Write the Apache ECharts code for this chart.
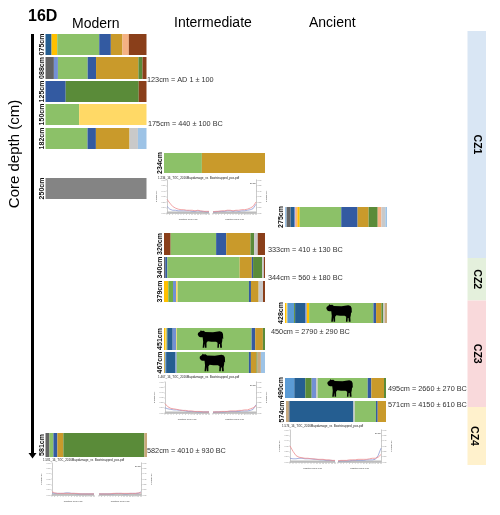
<!DOCTYPE html>
<html><head><meta charset="utf-8">
<style>html,body{margin:0;padding:0;background:#fff}#c{width:500px;height:515px}</style>
<script src="https://cdn.jsdelivr.net/npm/echarts@6/dist/echarts.min.js"></script>
</head><body><div id="c"></div>
<script>
// ---------- DATA: composition of each sample (taxon, %) ----------
const s075 = [['dkblue',6],['gold',5.6],['green',41.6],['blue',11.5],['ochre',11.5],['peach',6.3],['brown',17.5]];
const s088 = [['gray',8.3],['periw',4],['green',29.4],['blue',8.3],['ochre',41.9],['dkgreen',4],['brown',4]];
const s125 = [['blue',20],['dkgreen',72.3],['brown',7.7]];
const s150 = [['green',33.3],['ltyellow',66.7]];
const s182 = [['green',41.6],['blue',8.3],['ochre',33.3],['ltgray',8.3],['ltblue',8.5]];
const s250 = [['midgray',100]];
const s234 = [['green',37.5],['ochre',62.5]];
const s320 = [['brown',6.6],['green',45],['blue',10],['ochre',24],['dkgreen',3.6],['ltgray',3.6],['brown',7.2]];
const s340 = [['gray',1.3],['blue',2],['green',71.6],['ochre',12],['blue',1.3],['dkgreen',9],['ltgray',1.7],['brown',1.1]];
const s379 = [['gold',4.3],['mdgreen',4.6],['periw',3],['ltyellow',1.6],['green',70.6],['blue',2],['ochre',7.6],['ltgray',4.3],['brown',2]];
const s451 = [['gold',1],['ltyellow',1.6],['dkgreen',0.7],['dkblue',5.3],['periw',3.3],['ltyellow',0.7],['green',74],['blue',3.6],['ochre',7.6],['dkgreen',2.1]];
const s467 = [['gold',0.7],['gray',0.7],['midblue',0.7],['dkblue',9.2],['periw',1.3],['green',71.6],['blue',2],['ochre',5.6],['dkgreen',1],['tan',3.3],['ltblue',4.1]];
const s275 = [['ltblue',1.6],['gray',3.9],['dkblue',3.3],['periw',1.3],['peach',2],['gold',2.3],['green',40.7],['blue',16],['ochre',10.8],['dkgreen',8.9],['peach',3.6],['ltgray',3.9],['ltblue',1.6]];
const s428 = [['gold',1],['ltyellow',1.3],['midblue',6.6],['dkgreen',1],['dkblue',9.8],['periw',1.6],['gold',2.3],['green',63],['blue',2.6],['ochre',5.2],['dkgreen',1.6],['ltgray',1.6],['tan',2.3]];
const s490 = [['midblue',9.2],['dkblue',10.9],['dkgreen',6.3],['periw',4.3],['ltgray',1.6],['green',49.5],['blue',3.6],['ochre',12.5],['dkgreen',2]];
const s574 = [['tan',2.7],['gray',1],['dkblue',63.8],['ltgray',1.3],['green',21.3],['blue',1.7],['ochre',8.3]];
const s581 = [['gray',3.9],['green',3.9],['blue',3.9],['ochre',5.9],['dkgreen',79.7],['tan',2.6]];

// cows: position along the bar (% of composition)
const cowAt = {s451:46, s467:48, s428:53, s490:54.5};

// zone thicknesses along the depth column
const zoneNames = ['CZ1','CZ2','CZ3','CZ4'];
const zoneValues = [227,42.5,106.5,58];

// damage-plot curves (frequency by position)
const posTicks = ['1','2','3','4','5','6','7','8','9','10','11','12','13','14','15','16'];
const aLeftRed  = [.25,.18,.12,.09,.07,.06,.06,.05,.05,.05,.04,.05,.04,.03,.03,.03];
const aLeftBlue = [.12,.07,.05,.05,.04,.04,.04,.04,.04,.03,.03,.04,.03,.03,.02,.02];
const aRightRed = [.02,.03,.03,.04,.04,.05,.05,.04,.05,.05,.06,.06,.07,.09,.12,.20];
const aRightBlue= [.02,.02,.03,.03,.03,.04,.04,.03,.04,.03,.04,.04,.05,.06,.08,.16];
const bLeftRed  = [.18,.12,.09,.08,.07,.06,.05,.05,.04,.04,.03,.03,.03,.02,.02,.02];
const bLeftBlue = [.10,.08,.07,.06,.06,.05,.05,.04,.03,.03,.03,.02,.02,.02,.02,.02];
const bRightRed = [.02,.02,.02,.03,.03,.03,.04,.04,.04,.05,.05,.06,.06,.08,.10,.14];
const bRightBlue= [.01,.02,.02,.02,.02,.03,.03,.03,.03,.03,.04,.04,.04,.05,.07,.16];
const cLeftRed  = [.30,.20,.12,.09,.08,.07,.07,.06,.06,.05,.05,.05,.04,.04,.03,.03];
const cLeftBlue = [.07,.06,.06,.07,.07,.06,.06,.06,.05,.05,.04,.04,.03,.03,.03,.02];
const cRightRed = [.02,.03,.03,.03,.04,.04,.04,.05,.05,.05,.05,.06,.07,.07,.09,.14];
const cRightBlue= [.01,.02,.02,.02,.02,.03,.03,.03,.03,.03,.04,.04,.04,.05,.12,.26];
const dLeftRed  = [.06,.04,.03,.03,.03,.03,.03,.03,.03,.03,.02,.02,.02,.02,.02,.02];
const dLeftBlue = [.04,.03,.03,.03,.03,.04,.04,.03,.03,.02,.02,.02,.02,.02,.02,.02];
const dRightRed = [.02,.02,.02,.02,.02,.03,.03,.03,.03,.03,.03,.03,.03,.03,.04,.04];
const dRightBlue= [.02,.02,.02,.02,.02,.02,.03,.03,.03,.02,.02,.03,.03,.03,.03,.06];
const baseline  = [.012,.012,.012,.012,.012,.012,.012,.012,.012,.012,.012,.012,.012,.012,.012,.012];

// ---------- STYLE / LAYOUT ----------
const taxonColor = {dkblue:'#255E91',gold:'#FFC000',green:'#8CC168',blue:'#335AA1',ochre:'#C99A2B',peach:'#F4B183',
  brown:'#8A3F1A',gray:'#636363',periw:'#7390D4',dkgreen:'#5A8B39',mdgreen:'#70AD47',ltyellow:'#FFD966',ltgray:'#C9C9C9',
  ltblue:'#9DC3E6',midgray:'#848484',midblue:'#5B9BD5',tan:'#C8A87C'};
const zoneColor = ['#D9E6F4','#E4F0DC','#F9D9DB','#FFF1CC'];
const font = 'Liberation Sans';

const barRows = [
 ['075cm',s075,45.5,34,101,21,'s075'],['088cm',s088,45.5,57,101,22,'s088'],['125cm',s125,45.5,81,101,21,'s125'],
 ['150cm',s150,45.5,104,101,21,'s150'],['182cm',s182,45.5,128,101,21,'s182'],['250cm',s250,45.5,178,101,21,'s250'],
 ['234cm',s234,164,153,101,20,'s234'],['320cm',s320,164,233,101,22,'s320'],['340cm',s340,164,257,101,21,'s340'],
 ['379cm',s379,164,281,101,21,'s379'],['451cm',s451,164,328,101,22,'s451'],['467cm',s467,164,352,101,21,'s467'],
 ['275cm',s275,285,207,102,20,'s275'],['428cm',s428,285,303,102,20,'s428'],['490cm',s490,285,378,101,20,'s490'],
 ['574cm',s574,286,401,100,21,'s574'],['581cm',s581,45.5,433,101.5,24,'s581']
];
const cowPath = 'path://M2 14L10 9L13 4L17 7L24 6L30 10L60 11L86 8L95 10L99 18L100 36L97 33L96 44L94 52L95 68L88 68L87 54L84 54L83 68L77 68L78 50L72 46L54 46L40 44L35 50L35 68L29 68L28 52L26 68L20 68L22 46L20 30L12 30L6 28L1 20Z';

const grid=[],xAxis=[],yAxis=[],series=[],graphic=[];

function addText(text,x,y,size,opts){
  graphic.push(Object.assign({type:'text',x,y,silent:true,
    style:Object.assign({text,font:(opts&&opts.weight||'normal')+' '+size+'px "'+font+'"',fill:'#000',
      textAlign:'left',textVerticalAlign:'middle'},opts&&opts.style)},opts&&opts.el));
}
// --- stacked composition bars
barRows.forEach(r=>{
  const [label,vals,x,y,w,h,key]=r, i=grid.length;
  grid.push({left:x,top:y,width:w,height:h,containLabel:false});
  const total=vals.reduce((a,v)=>a+v[1],0);
  xAxis.push({gridIndex:i,type:'value',min:0,max:total,show:false});
  yAxis.push({gridIndex:i,type:'category',data:[label],show:false});
  vals.forEach((v,k)=>series.push({type:'bar',xAxisIndex:i,yAxisIndex:i,stack:key,barWidth:'100%',silent:true,
    data:[v[1]],itemStyle:{color:taxonColor[v[0]]}}));
  if(cowAt[key]!==undefined) series.push({type:'scatter',xAxisIndex:i,yAxisIndex:i,silent:true,z:5,
    symbol:cowPath,symbolSize:[25.5,17.5],data:[[cowAt[key],0]],itemStyle:{color:'#000',opacity:1}});
  graphic.push({type:'text',x:x-3.5,y:y+h/2,rotation:Math.PI/2,silent:true,
    style:{text:label,font:'bold 7px "'+font+'"',fill:'#111',textAlign:'center',textVerticalAlign:'middle'}});
});
// --- zone column
{
  const i=grid.length;
  grid.push({left:467.5,top:31,width:18.5,height:434});
  xAxis.push({gridIndex:i,type:'category',data:['zones'],show:false});
  yAxis.push({gridIndex:i,type:'value',inverse:true,min:0,max:zoneValues.reduce((a,b)=>a+b,0),show:false});
  zoneValues.forEach((v,k)=>series.push({type:'bar',xAxisIndex:i,yAxisIndex:i,stack:'z',barWidth:'100%',silent:true,
    data:[v],itemStyle:{color:zoneColor[k]},
    label:{show:true,position:'inside',rotate:-90,offset:[0,k===3?3:0],formatter:zoneNames[k],fontFamily:font,fontWeight:'bold',fontSize:10.5,color:'#000'}}));
}
// --- damage plots
function damagePanel(x,y,w,h,red,blue,side){
  const i=grid.length;
  grid.push({left:x,top:y,width:w,height:h});
  xAxis.push({gridIndex:i,type:'category',data:posTicks,boundaryGap:false,position:'bottom',
    axisLine:{lineStyle:{color:'#aaa',width:.6}},axisTick:{length:1,lineStyle:{color:'#aaa',width:.4}},
    axisLabel:{show:true,interval:0,fontSize:1.6,margin:1,color:'#999',fontFamily:font},
    name:'Position from end',nameLocation:'middle',nameGap:5,nameTextStyle:{fontSize:2.4,color:'#444',fontFamily:font},splitLine:{show:false}});
  yAxis.push({gridIndex:i,type:'value',position:side,min:0,max:.6,interval:.1,
    axisLine:{show:true,lineStyle:{color:'#aaa',width:.6}},axisTick:{show:true,length:1,lineStyle:{color:'#aaa',width:.4}},
    axisLabel:{show:true,fontSize:2,margin:1.5,color:'#777',fontFamily:font,formatter:v=>v.toFixed(2)},
    name:'Frequency',nameLocation:'middle',nameGap:6.5,nameTextStyle:{fontSize:2.4,color:'#444',fontFamily:font},splitLine:{show:false}});
  [[baseline,'#bdbdbd',1.6],[blue,'#7F8FD0',.7],[red,'#EE8E90',.8]].forEach(s=>series.push({type:'line',xAxisIndex:i,yAxisIndex:i,
    data:s[0],showSymbol:false,silent:true,lineStyle:{color:s[1],width:s[2]}}));
}
function damagePlot(title,tx,ty,lx,rx,top,h,lw,rw,a,b,c,d){
  addText(title,tx,ty,3,{style:{fill:'#222'}});
  damagePanel(lx,top,lw,h,a,b,'left');
  damagePanel(rx,top,rw,h,c,d,'right');
  addText('Deam',rx+rw-6,top+3,2.2,{style:{fill:'#333'}});
}
damagePlot('1.234_16_TOC_2016Mapdamage_vs_Bootstrapped_pos.pdf',158,178,167,213,180,33,42,43,aLeftRed,aLeftBlue,aRightRed,aRightBlue);
damagePlot('1.467_16_TOC_2016Mapdamage_vs_Bootstrapped_pos.pdf',158,377,165,213,382,31,44,43,bLeftRed,bLeftBlue,bRightRed,bRightBlue);
damagePlot('1.574_16_TOC_2016Mapdamage_vs_Bootstrapped_pos.pdf',282,426,290,338,430,32,45,43,cLeftRed,cLeftBlue,cRightRed,cRightBlue);
damagePlot('1.581_16_TOC_2016Mapdamage_vs_Bootstrapped_pos.pdf',43,460,52,99,463,32,42,42,dLeftRed,dLeftBlue,dRightRed,dRightBlue);

// --- titles and notes
addText('16D',28,17,16,{weight:'bold'});
addText('Modern',72,24,14);
addText('Intermediate',174,23,14);
addText('Ancient',309,23,14);
graphic.push({type:'text',x:15,y:154,rotation:Math.PI/2,silent:true,
  style:{text:'Core depth (cm)',font:'15px "'+font+'"',fill:'#000',textAlign:'center',textVerticalAlign:'middle'}});
const notes=[['123cm = AD 1 ± 100',147,80],['175cm = 440 ± 100 BC',148,124],['333cm = 410 ± 130 BC',268,250],
 ['344cm = 560 ± 180 BC',268,278],['450cm = 2790 ± 290 BC',271,332],['495cm = 2660 ± 270 BC',388,389],
 ['571cm = 4150 ± 610 BC',388,405],['582cm = 4010 ± 930 BC',147,451]];
notes.forEach(n=>addText(n[0],n[1],n[2],7.3,{style:{fill:'#333'}}));
// --- depth arrow
graphic.push({type:'line',silent:true,shape:{x1:32.5,y1:34,x2:32.5,y2:454},style:{stroke:'#000',lineWidth:3}});
graphic.push({type:'polygon',silent:true,shape:{points:[[28.5,453],[36.5,453],[32.5,458.5]]},style:{fill:'#000'}});

const chart=echarts.init(document.getElementById('c'),null,{renderer:'canvas'});
chart.setOption({animation:false,backgroundColor:'#fff',grid,xAxis,yAxis,series,graphic:{elements:graphic},tooltip:{show:false}});
</script></body></html>
